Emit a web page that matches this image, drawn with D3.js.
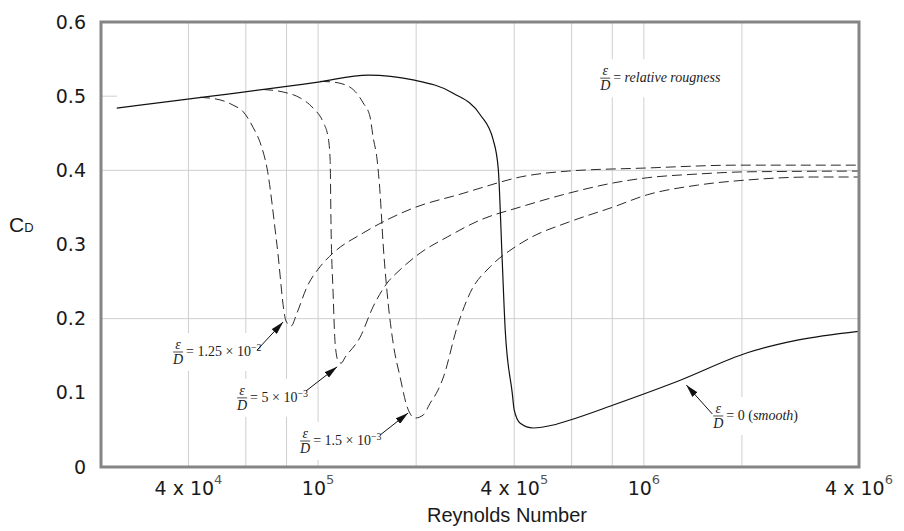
<!DOCTYPE html>
<html>
<head>
<meta charset="utf-8">
<script src="https://cdn.jsdelivr.net/npm/d3@7"></script>
<style>
  body { margin: 0; background: #fff; }
  svg { display: block; }
</style>
</head>
<body>
<div id="chart"></div>
<script>
// Drag coefficient of a sphere against Reynolds number, smooth and rough surfaces

// smooth sphere (solid line)
const smoothRe = [24100, 100000, 142400, 195700, 259800, 314500, 344800, 357200, 367400, 375300, 394400, 399900, 417300, 457500, 526900, 594300, 805400, 1293500, 2078000, 2958000, 4556000];
const smoothCd = [0.484, 0.519, 0.5285, 0.522, 0.504, 0.475, 0.441, 0.403, 0.279, 0.185, 0.100, 0.077, 0.059, 0.0526, 0.0566, 0.0634, 0.0836, 0.117, 0.154, 0.171, 0.183];

// e/D = 1.25e-2
const rough1Re = [43400, 50000, 54800, 58900, 63150, 66800, 69700, 74800, 79700, 82600, 86200, 92500, 101400, 111200, 137500, 195700, 278800, 314500, 417300, 586000, 995800, 1977000, 4556000];
const rough1Cd = [0.4985, 0.495, 0.488, 0.479, 0.458, 0.434, 0.403, 0.299, 0.197, 0.190, 0.208, 0.243, 0.270, 0.2885, 0.3155, 0.349, 0.369, 0.376, 0.391, 0.399, 0.403, 0.407, 0.407];

// e/D = 5e-3
const rough2Re = [67800, 78100, 88100, 96500, 103600, 107300, 108900, 109600, 111200, 112800, 115200, 117700, 121100, 134600, 147500, 162900, 178600, 205700, 249000, 314500, 417300, 586000, 805400, 1024000, 1459000, 2078000, 4556000];
const rough2Cd = [0.509, 0.5056, 0.4976, 0.484, 0.465, 0.445, 0.414, 0.324, 0.235, 0.167, 0.143, 0.140, 0.148, 0.175, 0.216, 0.248, 0.266, 0.2885, 0.310, 0.333, 0.3505, 0.369, 0.383, 0.390, 0.395, 0.398, 0.399];

// e/D = 1.5e-3
const rough3Re = [101400, 111200, 125400, 137500, 144400, 147500, 151800, 155000, 158300, 162900, 170000, 178600, 187700, 198500, 210100, 220800, 233600, 242000, 267300, 293000, 337500, 397200, 447900, 586000, 805400, 1024000, 1459000, 2078000, 3314000, 4556000];
const rough3Cd = [0.520, 0.519, 0.512, 0.491, 0.472, 0.445, 0.414, 0.369, 0.302, 0.235, 0.167, 0.121, 0.081, 0.066, 0.070, 0.086, 0.104, 0.120, 0.189, 0.235, 0.270, 0.295, 0.309, 0.330, 0.3505, 0.367, 0.380, 0.387, 0.391, 0.391];

const xTickValues = [4e4, 1e5, 4e5, 1e6, 4e6];
const xTickMant = ['4 x 10', '10', '4 x 10', '10', '4 x 10'];
const xTickExp = ['4', '5', '5', '6', '6'];
const xGrid = [4e4, 6e4, 8e4, 1e5, 2e5, 4e5, 6e5, 8e5, 1e6, 2e6];
const yTicks = [0, 0.1, 0.2, 0.3, 0.4, 0.5, 0.6];
const yGrid = [0.2, 0.4];

// arrow annotations: tip sits on the curve (Re, Cd)
const notes = [
  { text: '1.25 × 10', exp: '−2', re: 78100, cd: 0.1955 },
  { text: '5 × 10', exp: '−3', re: 114400, cd: 0.135 },
  { text: '1.5 × 10', exp: '−3', re: 189000, cd: 0.0728 },
  { text: '0 (', it: 'smooth', tail: ')', re: 1350000, cd: 0.1106 },
];
// label / arrow-tail offsets from the tip, in px
const noteOffsets = [
  { dx: -105, dy: 30, tx: -26, ty: 28 },
  { dx: -95, dy: 31, tx: -31, ty: 24 },
  { dx: -103, dy: 28, tx: -28, ty: 22 },
  { dx: 32, dy: 31, tx: 26, ty: 29 },
];

const width = 904;
const height = 531;
const margin = { top: 22, right: 45, bottom: 64, left: 101 };

const svg = d3.select('#chart')
  .append('svg')
  .attr('width', width)
  .attr('height', height);

const x = d3.scaleLog()
  .domain([21560, 4575000])
  .range([margin.left, width - margin.right]);

const y = d3.scaleLinear()
  .domain([0, 0.6])
  .range([height - margin.bottom, margin.top]);

const x0 = x.range()[0], x1 = x.range()[1];
const y0 = y.range()[0], y1 = y.range()[1];

// grid
svg.append('g')
  .selectAll('line')
  .data(xGrid)
  .join('line')
  .attr('x1', d => x(d)).attr('x2', d => x(d))
  .attr('y1', y1).attr('y2', y0)
  .attr('stroke', '#cfcfcf')
  .attr('stroke-width', 1);

svg.append('g')
  .selectAll('line')
  .data(yGrid)
  .join('line')
  .attr('x1', x0).attr('x2', x1)
  .attr('y1', d => y(d)).attr('y2', d => y(d))
  .attr('stroke', '#cfcfcf')
  .attr('stroke-width', 1);

// little stub left at 0.5
svg.append('line')
  .attr('x1', x0).attr('x2', x0 + 16)
  .attr('y1', y(0.5)).attr('y2', y(0.5))
  .attr('stroke', '#cfcfcf');

// arrow head
svg.append('defs').append('marker')
  .attr('id', 'head')
  .attr('markerUnits', 'userSpaceOnUse')
  .attr('markerWidth', 13).attr('markerHeight', 7)
  .attr('refX', 13).attr('refY', 3.5)
  .attr('orient', 'auto')
  .append('path')
  .attr('d', 'M0,0 L13,3.5 L0,7 Z')
  .attr('fill', '#111');

// annotation labels (white box hides the grid behind them)
const serif = '"Liberation Serif", "DejaVu Serif", serif';

function fraction(g, cx, cy) {
  g.append('text')
    .attr('x', cx).attr('y', cy - 3)
    .attr('text-anchor', 'middle')
    .style('font-style', 'italic')
    .text('ε');
  g.append('line')
    .attr('x1', cx - 5).attr('x2', cx + 5)
    .attr('y1', cy).attr('y2', cy)
    .attr('stroke', '#222').attr('stroke-width', 0.8);
  g.append('text')
    .attr('x', cx).attr('y', cy + 12)
    .attr('text-anchor', 'middle')
    .style('font-style', 'italic')
    .text('D');
}

function boxIt(g) {
  const b = g.node().getBBox();
  g.insert('rect', ':first-child')
    .attr('x', b.x - 3).attr('y', b.y - 4)
    .attr('width', b.width + 6).attr('height', b.height + 8)
    .attr('fill', '#fff');
}

notes.forEach((n, i) => {
  const o = noteOffsets[i];
  const px = x(n.re), py = y(n.cd);
  const cx = px + o.dx, cy = py + o.dy;
  const g = svg.append('g')
    .attr('font-family', serif)
    .attr('font-size', 14)
    .attr('fill', '#222');
  fraction(g, cx, cy);
  const t = g.append('text')
    .attr('x', cx + 8).attr('y', cy + 4);
  t.append('tspan').text('= ' + n.text);
  if (n.exp) {
    t.append('tspan').attr('dy', -5).attr('font-size', 10).text(n.exp);
  } else {
    t.append('tspan').style('font-style', 'italic').text(n.it);
    t.append('tspan').text(n.tail);
  }
  boxIt(g);
});

// legend note top right
{
  const cx = x(761000), cy = y(0.5243);
  const g = svg.append('g')
    .attr('font-family', serif)
    .attr('font-size', 14)
    .attr('fill', '#222');
  fraction(g, cx, cy);
  const t = g.append('text').attr('x', cx + 8).attr('y', cy + 4);
  t.append('tspan').text('= ');
  t.append('tspan').style('font-style', 'italic').text('relative rougness');
  boxIt(g);
}

// curves
const line = d3.line()
  .x(d => x(d[0]))
  .y(d => y(d[1]))
  .curve(d3.curveMonotoneX);

const rough = [
  d3.zip(rough1Re, rough1Cd),
  d3.zip(rough2Re, rough2Cd),
  d3.zip(rough3Re, rough3Cd),
];

svg.append('g')
  .selectAll('path')
  .data(rough)
  .join('path')
  .attr('d', line)
  .attr('fill', 'none')
  .attr('stroke', '#2a2a2a')
  .attr('stroke-width', 1)
  .attr('stroke-dasharray', '10,5');

svg.append('path')
  .datum(d3.zip(smoothRe, smoothCd))
  .attr('d', line)
  .attr('fill', 'none')
  .attr('stroke', '#111')
  .attr('stroke-width', 1.2);

// arrows
notes.forEach((n, i) => {
  const o = noteOffsets[i];
  const px = x(n.re), py = y(n.cd);
  svg.append('line')
    .attr('x1', px + o.tx).attr('y1', py + o.ty)
    .attr('x2', px).attr('y2', py)
    .attr('stroke', '#111')
    .attr('stroke-width', 1)
    .attr('marker-end', 'url(#head)');
});

// frame
svg.append('rect')
  .attr('x', x0).attr('y', y1)
  .attr('width', x1 - x0).attr('height', y0 - y1)
  .attr('fill', 'none')
  .attr('stroke', '#858585')
  .attr('stroke-width', 3);

// y tick labels
const sans = '"DejaVu Sans", sans-serif';
svg.append('g')
  .selectAll('text')
  .data(yTicks)
  .join('text')
  .attr('x', x0 - 15)
  .attr('y', d => y(d))
  .attr('dy', '0.35em')
  .attr('text-anchor', 'end')
  .attr('font-family', sans)
  .attr('font-size', 19)
  .attr('fill', '#1a1a1a')
  .text(d => String(d));

// x tick labels (the last one sits at the frame edge, as in the original)
const xl = svg.append('g')
  .selectAll('text')
  .data(xTickValues)
  .join('text')
  .attr('x', (d, i) => i === xTickValues.length - 1 ? x1 : x(d))
  .attr('y', y0 + 28)
  .attr('text-anchor', 'middle')
  .attr('font-family', sans)
  .attr('font-size', 19)
  .attr('fill', '#1a1a1a');
xl.append('tspan').text((d, i) => xTickMant[i]);
xl.append('tspan')
  .attr('dy', -11)
  .attr('font-size', 13)
  .attr('fill', '#555')
  .text((d, i) => xTickExp[i]);

// axis titles
svg.append('text')
  .attr('x', (x0 + x1) / 2 + 27)
  .attr('y', height - 9)
  .attr('text-anchor', 'middle')
  .attr('font-family', '"Liberation Sans", Arial, sans-serif')
  .attr('font-size', 20)
  .attr('fill', '#1a1a1a')
  .text('Reynolds Number');

const cd = svg.append('text')
  .attr('x', 9)
  .attr('y', 232)
  .attr('font-family', '"Liberation Sans", Arial, sans-serif')
  .attr('font-size', 21)
  .attr('fill', '#1a1a1a');
cd.append('tspan').text('C');
cd.append('tspan').attr('font-size', 13).text('D');
</script>
</body>
</html>
